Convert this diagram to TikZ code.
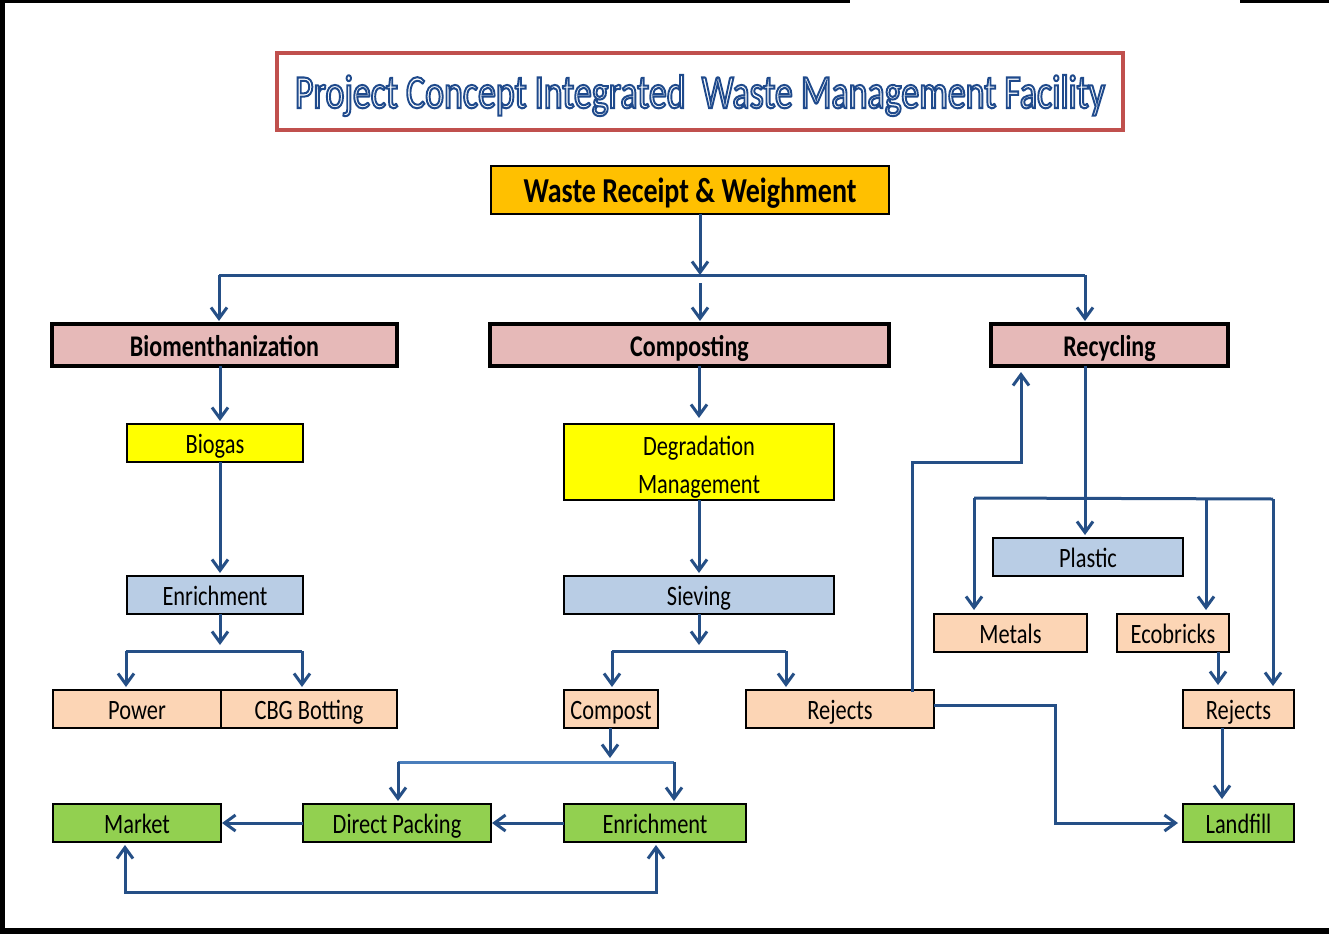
\documentclass[tikz,border=0pt]{standalone}
\usepackage{fontspec}
\usepackage{graphicx}
\setmainfont{Carlito}[FakeStretch=0.8]
\usetikzlibrary{arrows.meta}
\definecolor{ac}{HTML}{254F86}
\definecolor{acl}{HTML}{4A7EBB}
\definecolor{pinkf}{HTML}{E6B9B8}
\definecolor{peach}{HTML}{FCD5B5}
\definecolor{lblue}{HTML}{B9CDE5}
\definecolor{gr}{HTML}{92D050}
\definecolor{yel}{HTML}{FFFF00}
\definecolor{gold}{HTML}{FFC000}
\definecolor{tred}{HTML}{C0504D}
\begin{document}
\begin{tikzpicture}[x=1pt,y=-1pt,
 box/.style={draw=black, line width=2.5pt, inner sep=0pt, outer sep=0pt,
   font=\fontsize{28}{32}\selectfont, text height=21.5pt, text depth=0pt},
 head/.style={box, line width=3.5pt, fill=pinkf,
   font=\fontsize{30}{34}\selectfont\bfseries, text height=23.5pt},
 arr/.style={draw=ac, line width=3pt, shorten >=3pt, -{Straight Barb[length=11pt,width=16pt]}},
 darr/.style={draw=ac, line width=3pt, shorten >=3pt, shorten <=3pt,
   {Straight Barb[length=11pt,width=16pt]}-{Straight Barb[length=11pt,width=16pt]}},
 ln/.style={draw=ac, line width=3pt},
 lnl/.style={draw=acl, line width=3pt}]
\useasboundingbox (0,0) rectangle (1329,934);
% frame
\fill[black] (0,0) rectangle (5,934);
\fill[black] (0,0) rectangle (850,3);
\fill[black] (1240,0) rectangle (1329,3);
\fill[black] (0,928) rectangle (1329,934);
% title
\node[draw=tred, line width=4pt, fill=white, minimum width=846pt, minimum height=77pt, inner sep=0pt] (tb) at (700,91.5) {};
\node[anchor=base, inner sep=0pt, font=\fontsize{40}{44}\selectfont] (tt) at (700,108)
 {\special{pdf:code 2 Tr 1.7 w}\color{white}\special{pdf:code 0.12 0.29 0.55 RG}\resizebox{810pt}{33pt}{Project Concept Integrated\ \ Waste Management Facility}\special{pdf:code 0 Tr}};
% nodes
\node[box, fill=gold, minimum width=398pt, minimum height=48pt, font=\fontsize{35}{39}\selectfont\bfseries, text height=24.5pt] (wr) at (690,190) {Waste Receipt \& Weighment};
\node[head, minimum width=345pt, minimum height=42pt] (biom) at (224.5,345) {Biomenthanization};
\node[head, minimum width=399pt, minimum height=42pt] (comp) at (689.5,345) {Composting};
\node[head, minimum width=237pt, minimum height=42pt] (recy) at (1109.5,345) {Recycling};
\node[box, fill=yel, minimum width=176pt, minimum height=38pt] (biogas) at (215,443) {Biogas};
\node[box, fill=yel, minimum width=270pt, minimum height=76pt, align=center, text height=, text depth=, font=\fontsize{28}{38}\selectfont] (degr) at (699,462) {\rule{0pt}{29pt}Degradation\\Management};
\node[box, fill=lblue, minimum width=176pt, minimum height=38pt] (enrL) at (215,595) {Enrichment};
\node[box, fill=lblue, minimum width=270pt, minimum height=38pt] (siev) at (699,595) {Sieving};
\node[box, fill=lblue, minimum width=190pt, minimum height=38pt] (plastic) at (1088,557) {Plastic};
\node[box, fill=peach, minimum width=153pt, minimum height=38pt] (metals) at (1010.5,633) {Metals};
\node[box, fill=peach, minimum width=112pt, minimum height=38pt] (eco) at (1173,633) {Ecobricks};
\node[box, fill=peach, minimum width=168pt, minimum height=38pt] (power) at (137,709) {Power};
\node[box, fill=peach, minimum width=176pt, minimum height=38pt] (cbg) at (309,709) {CBG Botting};
\node[box, fill=peach, minimum width=94pt, minimum height=38pt] (compost) at (611,709) {Compost};
\node[box, fill=peach, minimum width=188pt, minimum height=38pt] (rejM) at (840,709) {Rejects};
\node[box, fill=peach, minimum width=111pt, minimum height=38pt] (rejR) at (1238.5,709) {Rejects};
\node[box, fill=gr, minimum width=168pt, minimum height=38pt] (market) at (137,823) {Market};
\node[box, fill=gr, minimum width=188pt, minimum height=38pt] (dp) at (397,823) {Direct Packing};
\node[box, fill=gr, minimum width=182pt, minimum height=38pt] (enrB) at (655,823) {Enrichment};
\node[box, fill=gr, minimum width=111pt, minimum height=38pt] (land) at (1238.5,823) {Landfill};
% top split
\coordinate (jT) at (700,275);
\coordinate (bL) at (219,275);
\coordinate (bR) at (1085,275);
\coordinate (bM) at (700,283);
\draw[arr, shorten >=0pt] (wr.south -| jT) -- (jT);
\draw[ln] (bL) -- (bR);
\draw[arr] (bL) -- (bL |- biom.north);
\draw[arr] (bM) -- (bM |- comp.north);
\draw[arr] (bR) -- (bR |- recy.north);
% left column
\coordinate (xL) at (220,0);
\coordinate (sL) at (220,645);
\coordinate (sL1) at (126,651);
\coordinate (sL2) at (302,651);
\draw[arr] (biom.south -| xL) -- (biogas.north -| xL);
\draw[arr] (biogas.south -| xL) -- (enrL.north -| xL);
\draw[arr, shorten >=0pt] (enrL.south -| xL) -- (sL);
\draw[ln] (sL1) -- (sL2);
\draw[arr] (sL1) -- (sL1 |- power.north);
\draw[arr] (sL2) -- (sL2 |- cbg.north);
% middle column
\coordinate (xM) at (699,0);
\coordinate (sM) at (699,645);
\coordinate (sM1) at (612,651);
\coordinate (sM2) at (786,651);
\draw[arr, shorten >=6pt] (comp.south -| xM) -- (degr.north -| xM);
\draw[arr] (degr.south -| xM) -- (siev.north -| xM);
\draw[arr, shorten >=0pt] (siev.south -| xM) -- (sM);
\draw[ln] (sM1) -- (sM2);
\draw[arr] (sM1) -- (sM1 |- compost.north);
\draw[arr] (sM2) -- (sM2 |- rejM.north);
\coordinate (sC) at (610,758);
\coordinate (sC1) at (398,762);
\coordinate (sC2) at (674,762);
\draw[lnl] (sC1) -- (sC2);
\draw[arr, shorten >=0pt] (compost.south -| sC) -- (sC);
\draw[arr] (sC1) -- (sC1 |- dp.north);
\draw[arr] (sC2) -- (sC2 |- enrB.north);
\draw[arr, shorten >=1pt] (dp.west) -- (market.east);
\draw[arr, shorten >=1pt] (enrB.west) -- (dp.east);
\coordinate (lb1) at (125,892);
\coordinate (lb2) at (656,892);
\draw[darr] (market.south -| lb1) -- (lb1) -- (lb2) -- (enrB.south -| lb2);
% right side
\coordinate (xR1) at (912,462);
\coordinate (xR2) at (1021,462);
\coordinate (xR3) at (1055,705);
\draw[arr, shorten >=6pt] ([yshift=-2pt]rejM.north -| xR1) -- (xR1) -- (xR2) -- (xR2 |- recy.south);
\draw[arr, shorten >=5pt] (rejM.east |- xR3) -- (xR3) -- (xR3 |- land.west) -- (land.west);
\coordinate (xP) at (1085,0);
\draw[arr] (recy.south -| xP) -- (plastic.north -| xP);
\coordinate (rb1) at (974,498);
\coordinate (rb2) at (1273,499);
\coordinate (rb3) at (1206,499);
\draw[ln] (rb1) -- (rb2);
\draw[arr, shorten >=4pt] (rb1) -- (rb1 |- metals.north);
\draw[arr, shorten >=4pt] (rb3) -- (rb3 |- eco.north);
\draw[arr, shorten >=4pt] (rb2) -- (rb2 |- rejR.north);
\coordinate (xE) at (1218,0);
\coordinate (xF) at (1222,0);
\draw[arr, shorten >=5pt] (eco.south -| xE) -- (rejR.north -| xE);
\draw[arr, shorten >=5pt] (rejR.south -| xF) -- (land.north -| xF);
\end{tikzpicture}
\end{document}
